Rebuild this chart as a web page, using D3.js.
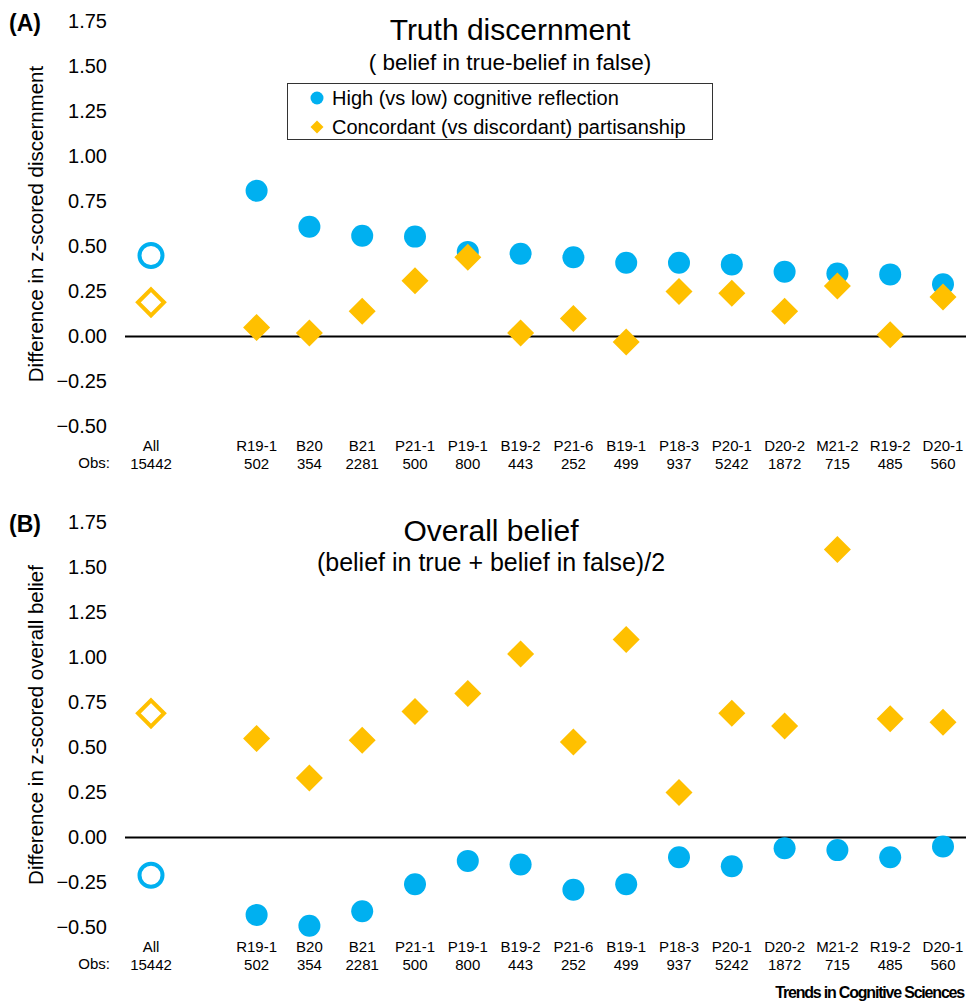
<!DOCTYPE html>
<html>
<head>
<meta charset="utf-8">
<script src="https://cdn.jsdelivr.net/npm/d3@7"></script>
<style>
  body { margin: 0; background: #fff; }
  svg { display: block; font-family: "Liberation Sans", Arial, sans-serif; }
</style>
</head>
<body>
<div id="chart-container"></div>
<script>
// Studies (with an empty slot after "All") and number of observations.
const slots = ["All", "gap", "R19-1", "B20", "B21", "P21-1", "P19-1", "B19-2", "P21-6", "B19-1", "P18-3", "P20-1", "D20-2", "M21-2", "R19-2", "D20-1"];
const studies = slots.filter(s => s !== "gap");
const obs = [15442, 502, 354, 2281, 500, 800, 443, 252, 499, 937, 5242, 1872, 715, 485, 560];

// Panel A: truth discernment.
const crtDiscern   = [0.45, 0.81, 0.61, 0.56, 0.555, 0.47, 0.46, 0.44, 0.41, 0.41, 0.40, 0.36, 0.35, 0.345, 0.29];
const partyDiscern = [0.19, 0.05, 0.02, 0.14, 0.31, 0.44, 0.02, 0.10, -0.03, 0.25, 0.24, 0.14, 0.28, 0.01, 0.22];

// Panel B: overall belief.
const crtBelief   = [-0.21, -0.43, -0.49, -0.41, -0.26, -0.13, -0.15, -0.29, -0.26, -0.11, -0.16, -0.06, -0.07, -0.11, -0.05];
const partyBelief = [0.69, 0.55, 0.33, 0.54, 0.70, 0.80, 1.02, 0.53, 1.10, 0.25, 0.69, 0.62, 1.60, 0.66, 0.64];

const yTicks = [-0.50, -0.25, 0.00, 0.25, 0.50, 0.75, 1.00, 1.25, 1.50, 1.75];

const blue = "#00B0F0", gold = "#FFC000";
const fWidth = 966, fHeight = 1001;

const svg = d3.select("#chart-container").append("svg")
  .attr("width", fWidth)
  .attr("height", fHeight);

// Shared x scale.
const xScale = d3.scalePoint()
  .domain(slots)
  .range([151, 943]);

const diamond = (cx, cy, h) => `M${cx},${cy - h}L${cx + h},${cy}L${cx},${cy + h}L${cx - h},${cy}Z`;

function drawPanel(cfg) {
  const g = svg.append("g");

  const yScale = d3.scaleLinear()
    .domain([-0.5, 1.75])
    .range([cfg.zero + 90, cfg.zero - 315]);

  // Panel letter.
  g.append("text")
    .attr("x", 9).attr("y", cfg.zero - 306)
    .attr("font-size", 23).attr("font-weight", "bold")
    .text(cfg.letter);

  // Titles.
  g.append("text")
    .attr("x", cfg.titleX).attr("y", cfg.zero - 297)
    .attr("text-anchor", "middle").attr("font-size", 30)
    .text(cfg.title);
  g.append("text")
    .attr("x", cfg.titleX).attr("y", cfg.zero - 267)
    .attr("text-anchor", "middle").attr("font-size", cfg.subSize)
    .text(cfg.subtitle);

  // Y axis (labels only).
  g.append("g")
    .attr("transform", "translate(110 0)")
    .call(d3.axisLeft(yScale).tickValues(yTicks).tickSize(0).tickPadding(3).tickFormat(d3.format(".2f")))
    .call(a => a.select(".domain").remove())
    .selectAll("text")
      .attr("font-size", 20)
      .attr("font-family", "Liberation Sans, Arial, sans-serif")
      .attr("fill", "#000");

  g.append("text")
    .attr("transform", `translate(43 ${ yScale(0.625) }) rotate(-90)`)
    .attr("text-anchor", "middle").attr("font-size", 20.5)
    .text(cfg.yLabel);

  // Zero line.
  g.append("line")
    .attr("x1", 125).attr("x2", fWidth)
    .attr("y1", yScale(0)).attr("y2", yScale(0))
    .attr("stroke", "#000").attr("stroke-width", 2);

  // X labels.
  const labels = g.append("g").attr("font-size", 15).attr("text-anchor", "middle");
  labels.selectAll(".study")
    .data(studies)
    .enter().append("text")
      .attr("x", d => xScale(d))
      .attr("y", cfg.zero + 114)
      .text(d => d);
  labels.selectAll(".obs")
    .data(obs)
    .enter().append("text")
      .attr("x", (d, i) => xScale(studies[i]))
      .attr("y", cfg.zero + 132)
      .text(d => d);
  labels.append("text")
    .attr("x", 110).attr("y", cfg.zero + 131)
    .attr("text-anchor", "end")
    .text("Obs:");

  // Circles (cognitive reflection).
  g.selectAll(".crt")
    .data(cfg.crt)
    .enter().append("circle")
      .attr("cx", (d, i) => xScale(studies[i]))
      .attr("cy", d => yScale(d))
      .attr("r", (d, i) => i === 0 ? 11.5 : 11)
      .attr("fill", (d, i) => i === 0 ? "#fff" : blue)
      .attr("stroke", (d, i) => i === 0 ? blue : "none")
      .attr("stroke-width", 4);

  // Diamonds (partisanship).
  g.selectAll(".party")
    .data(cfg.party)
    .enter().append("path")
      .attr("d", (d, i) => diamond(xScale(studies[i]), yScale(d), i === 0 ? 13 : 13.5))
      .attr("fill", (d, i) => i === 0 ? "#fff" : gold)
      .attr("stroke", (d, i) => i === 0 ? gold : "none")
      .attr("stroke-width", 4);

  return yScale;
}

drawPanel({
  letter: "(A)", zero: 336.5, titleX: 510,
  title: "Truth discernment", subtitle: "( belief in true-belief in false)", subSize: 22.5,
  yLabel: "Difference in z-scored discernment",
  crt: crtDiscern, party: partyDiscern
});

drawPanel({
  letter: "(B)", zero: 837.5, titleX: 491,
  title: "Overall belief", subtitle: "(belief in true + belief in false)/2", subSize: 25,
  yLabel: "Difference in z-scored overall belief",
  crt: crtBelief, party: partyBelief
});

// Legend.
const legend = svg.append("g");
legend.append("rect")
  .attr("x", 287.5).attr("y", 83.5)
  .attr("width", 425).attr("height", 56)
  .attr("fill", "#fff").attr("stroke", "#333").attr("stroke-width", 1);
legend.append("circle")
  .attr("cx", 317).attr("cy", 98).attr("r", 6.5).attr("fill", blue);
legend.append("path")
  .attr("d", diamond(317, 127, 6.5)).attr("fill", gold);
legend.append("text")
  .attr("x", 332).attr("y", 105).attr("font-size", 20)
  .text("High (vs low) cognitive reflection");
legend.append("text")
  .attr("x", 332).attr("y", 134).attr("font-size", 20)
  .text("Concordant (vs discordant) partisanship");

// Journal mark.
svg.append("text")
  .attr("x", 964).attr("y", 998)
  .attr("text-anchor", "end")
  .attr("font-size", 16).attr("font-weight", "bold")
  .attr("letter-spacing", -1.2)
  .text("Trends in Cognitive Sciences");
</script>
</body>
</html>
